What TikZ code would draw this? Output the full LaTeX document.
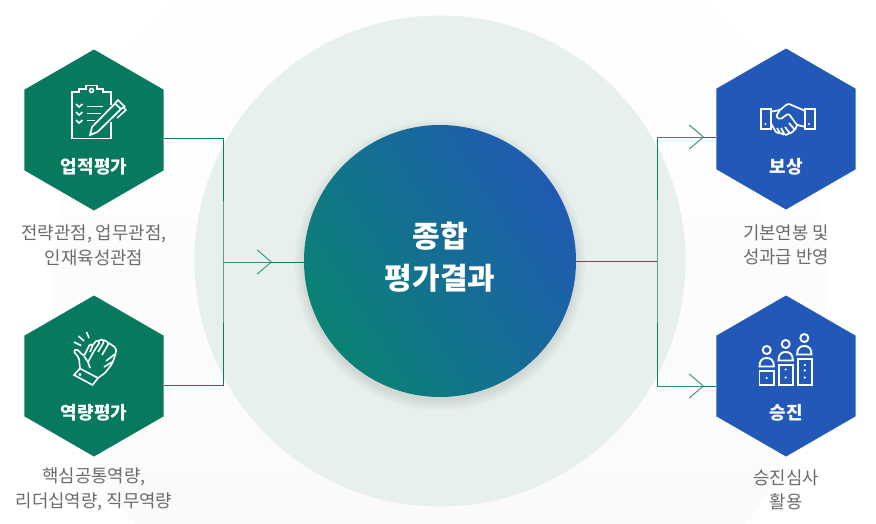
\documentclass[tikz,border=0pt]{standalone}
\usepackage{fontspec}
\setmainfont{Noto Sans CJK KR}
\usepackage{xcolor}
\usetikzlibrary{arrows.meta,shapes.geometric}
\definecolor{hexgreen}{HTML}{07795F}
\definecolor{hexblue}{HTML}{2259B8}
\definecolor{ringpale}{HTML}{E7F0ED}
\definecolor{haze}{HTML}{F9F9FA}
\definecolor{desctext}{HTML}{6B6B6B}
\definecolor{linkgreen}{HTML}{0F7A63}
\definecolor{coregreen}{HTML}{0A8274}
\definecolor{coreblue}{HTML}{1F5BB2}
\tikzset{
  hexnode/.style={regular polygon,regular polygon sides=6,shape border rotate=30,minimum size=161pt,inner sep=0pt,fill=#1},
  hextitle/.style={text=white,font=\fontsize{18}{20}\selectfont\bfseries},
  desc/.style={text=desctext,align=center,font=\fontsize{17.8}{24.5}\selectfont},
  link/.style={draw=linkgreen,line width=0.9pt},
  chev/.style={draw=linkgreen!85!white,line width=0.9pt,-{Straight Barb[length=14pt,width=24pt]}},
  icon/.style={draw=white,line width=1.9pt,line join=miter}
}
\begin{document}
\begin{tikzpicture}[x=1pt,y=-1pt]
  \useasboundingbox (0,0) rectangle (876,523);
  \clip (0,0) rectangle (876,523);
  % backdrop circles
  \shade[top color=white,middle color=haze,bottom color=haze] (440,285) circle (388);
  \node[circle,fill=ringpale,minimum size=491pt,inner sep=0pt] (ring) at (440,261) {};
  \foreach \i in {0,...,7}{
    \fill[black,opacity=0.012] (440,265) circle ({136+\i*1.4});
  }
  \node[circle,minimum size=272pt,inner sep=0pt,left color=coregreen,right color=coreblue,shading angle=122] (core) at (440,261) {};
  \node[text=white,align=center,font=\fontsize{30}{42}\selectfont\bfseries] (coretitle) at (440,257) {종합\\평가결과};
  % hexagons
  \node[hexnode=hexgreen] (perf) at (94,130) {};
  \node[hexnode=hexgreen] (comp) at (94,376) {};
  \node[hexnode=hexblue] (reward) at (786,129) {};
  \node[hexnode=hexblue] (promo) at (786,376) {};
  \node[hextitle] (perftitle) at (94,167) {업적평가};
  \node[hextitle] (comptitle) at (94,413) {역량평가};
  \node[hextitle] (rewardtitle) at (786,167) {보상};
  \node[hextitle] (promotitle) at (786,413) {승진};
  \node[desc] (perfdesc) at (94,245.5) {전략관점, 업무관점,\\인재육성관점};
  \node[desc] (compdesc) at (94,489.5) {핵심공통역량,\\리더십역량, 직무역량};
  \node[desc] (rewarddesc) at (786,245) {기본연봉 및\\성과급 반영};
  \node[desc] (promodesc) at (786,490) {승진심사\\활용};
  % connectors
  \coordinate (leftbus) at (223,262);
  \coordinate (rightbus) at (657,261);
  \coordinate (lefttip) at (272,262);
  \coordinate (uptip) at (704,137);
  \coordinate (downtip) at (704,386);
  \draw[link] ([yshift=-8pt]perf.east) -| (leftbus) |- ([yshift=-9pt]comp.east);
  \draw[link] (leftbus) -- (leftbus -| core.west);
  \draw[chev] (leftbus) -- (lefttip);
  \draw[link] (core.east) -- (rightbus);
  \draw[link] ([yshift=-8pt]reward.west) -| (rightbus) |- ([yshift=-10pt]promo.west);
  \draw[chev] (rightbus |- uptip) -- (uptip);
  \draw[chev] (rightbus |- downtip) -- (downtip);
  % clipboard
  \draw[icon] (111,105) -- (111,92) -- (103,92) -- (103,89) -- (97,89) -- (97,85.5) -- (86,85.5) -- (86,89) -- (79,89) -- (79,92) -- (72,92) -- (72,138.5) -- (111,138.5) -- (111,122);
  \draw[icon,line width=1.5pt] (91.5,90.5) circle (2);
  \foreach \yy in {104,112,120}{
    \draw[icon,line width=1.6pt] (76,\yy) -- (79,\yy+3) -- (82.5,\yy);
  }
  \draw[icon] (87,106.5) -- (103,106.5) (87,113.5) -- (101,113.5) (87,120.5) -- (95,120.5);
  \draw[icon,line width=1.7pt] (90,135) -- (92,127) -- (115,103.5) -- (121,109) -- (97.5,132) -- cycle (115,103.5) -- (118,100) -- (124.5,106.5) -- (121,109);
  \draw[icon,line width=1.5pt] (117,118) -- (126,110) -- (123,107);
  % clapping hands
  \draw[icon,line width=1.6pt] (74,342) -- (81,345.5) (78.5,336) -- (84,341) (86.5,332) -- (89,338);
  \draw[icon,line width=1.6pt] (74,375) -- (80,368.5) -- (98,378) -- (92.5,385) -- cycle (80,374.5) circle (0.6);
  \draw[icon,line width=1.6pt,rounded corners=1.5pt] (80,368.5) -- (79,358) -- (73.5,351) -- (76.5,349) -- (84,356) -- (90,344) -- (93,345) -- (90,352) (92,346) -- (97,340) -- (100,342) -- (94,351)
    (98,341) -- (103,339) -- (104,342) -- (98,352) (104,340) -- (109,343) -- (102,355) (109,343) -- (116,348) -- (116,353) -- (112,364) -- (105,373) -- (98,378);
  \draw[icon,line width=1.6pt] (88,362) -- (84,356) (94,351) -- (88,362) -- (90,368) (106,361) -- (115,354) (104,367) -- (112,362);
  % handshake
  \draw[icon] (760.7,108.7) rectangle (770.7,129.3) (804.7,108.7) rectangle (814.7,129.3);
  \fill[white] (765.5,124) circle (1.1) (809,124) circle (1.1);
  \draw[icon,line width=1.7pt,rounded corners=1.5pt] (770.7,111.7) -- (780,110) -- (788,103.5) -- (795,106.5) -- (804.7,110.7)
    (780,110) -- (776,116.5) -- (780,119.5) -- (788.5,113.5) -- (797,125) -- (804.7,126.7)
    (771,123.5) -- (776.5,133) -- (780,133) -- (777,128) (780,133) -- (785,135) -- (781,128) (785,135) -- (790,133.5) -- (785,127) (790,133.5) -- (795,130) -- (789,123) (795,130) -- (797,125);
  % podium
  \draw[icon] (759.5,370.7) rectangle (774,385.3) (778.7,364.7) rectangle (792.7,385.3) (797.7,358.7) rectangle (812.3,385.3);
  \foreach \px/\py in {766.7/350,785.7/344,804.3/338}{
    \draw[icon] (\px,\py) circle (4);
    \draw[icon] (\px-7.2,\py+16.5) .. controls (\px-7.2,\py+10) and (\px-4,\py+8) .. (\px,\py+8) .. controls (\px+4,\py+8) and (\px+7.2,\py+10) .. (\px+7.2,\py+16.5) -- cycle;
  }
  \fill[white] (766.7,378) circle (1.2) (785.7,369.5) circle (1.2) (785.7,377.5) circle (1.2) (804.9,365) circle (1.2) (804.9,370.5) circle (1.2) (804.9,377.5) circle (1.2);
\end{tikzpicture}
\end{document}
